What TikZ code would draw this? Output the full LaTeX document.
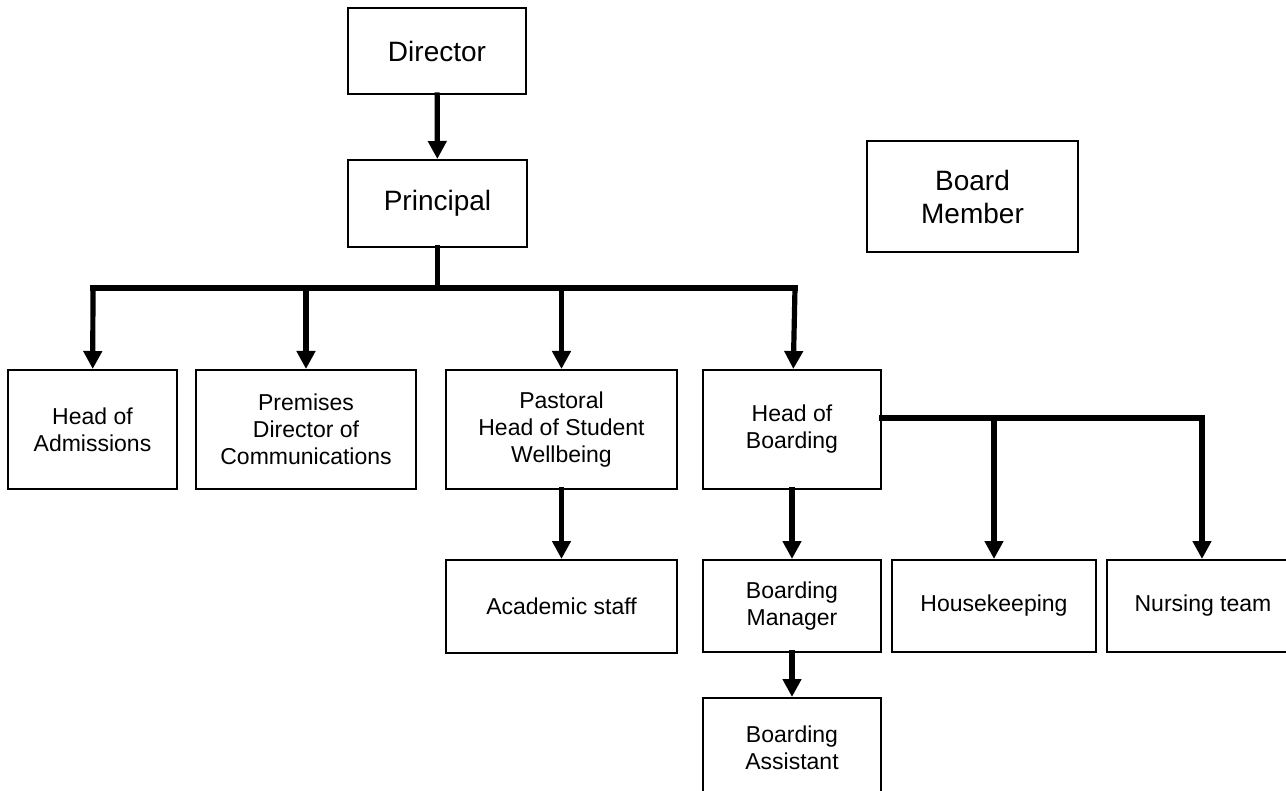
\documentclass[tikz,border=0pt]{standalone}
\usepackage{fontspec}
\setmainfont{Liberation Sans}
\usetikzlibrary{arrows.meta}

\tikzset{
	post/.style={draw, line width=1pt, align=center, inner sep=2pt, font=\fontsize{11.5}{13.5}\selectfont},
	bigpost/.style={post, font=\fontsize{14}{16.5}\selectfont},
	bar/.style={line width=2.6pt, line cap=rect},
	feed/.style={bar, -{Triangle[width=9pt, length=9pt]}}
}

\begin{document}
\begin{tikzpicture}[x=0.5pt, y=-0.5pt]
	\useasboundingbox (0,0) rectangle (1286,791);
	
	\node[bigpost, minimum width=89pt, minimum height=43pt] (dir) at (437,51) {Director};
	\node[bigpost, minimum width=89.5pt, minimum height=43.5pt] (prin) at (437.5,203.5) {Principal};
	\node[bigpost, minimum width=105.5pt, minimum height=55.5pt] (board) at (972.5,196.5) {Board\\Member};
	
	\node[post, minimum width=84.5pt, minimum height=59.5pt] (adm) at (92.5,429.5) {Head of\\Admissions};
	\node[post, minimum width=110pt, minimum height=59.5pt] (prem) at (306,429.5) {Premises\\Director of\\Communications};
	\node[post, minimum width=115.5pt, minimum height=59.5pt] (past) at (561.5,429.5) {Pastoral\\Head of Student\\Wellbeing};
	\node[post, minimum width=89pt, minimum height=59.5pt] (hob) at (792,429.5) {Head of\\Boarding};
	
	\node[post, minimum width=115.5pt, minimum height=46.5pt] (acad) at (561.5,606.5) {Academic staff};
	\node[post, minimum width=89pt, minimum height=46pt] (bman) at (792,606) {Boarding\\Manager};
	\node[post, minimum width=102pt, minimum height=46pt] (house) at (994,606) {Housekeeping};
	\node[post, minimum width=96pt, minimum height=46pt] (nurse) at (1203,606) {Nursing team};
	\node[post, minimum width=89pt, minimum height=50pt] (bass) at (792,748) {Boarding\\Assistant};
	
	\coordinate (busL) at (93,288);
	\coordinate (busR) at (795,288);
	\coordinate (hbR) at (1202,418);
	
	\draw[feed] (dir) -- (prin);
	\draw[bar] (prin) -- (prin |- busL);
	\draw[bar] (busL) -- (busR);
	\draw[feed] (busL) -- (adm);
	\draw[feed] (prem |- busL) -- (prem);
	\draw[feed] (past |- busL) -- (past);
	\draw[feed] (busR) -- (hob);
	
	\draw[feed] (past) -- (acad);
	\draw[feed] (hob) -- (bman);
	\draw[feed] (bman) -- (bass);
	\draw[bar] (hob.east |- hbR) -- (hbR);
	\draw[feed] (house |- hbR) -- (house);
	\draw[feed] (hbR) -- (nurse.north -| hbR);
\end{tikzpicture}
\end{document}
